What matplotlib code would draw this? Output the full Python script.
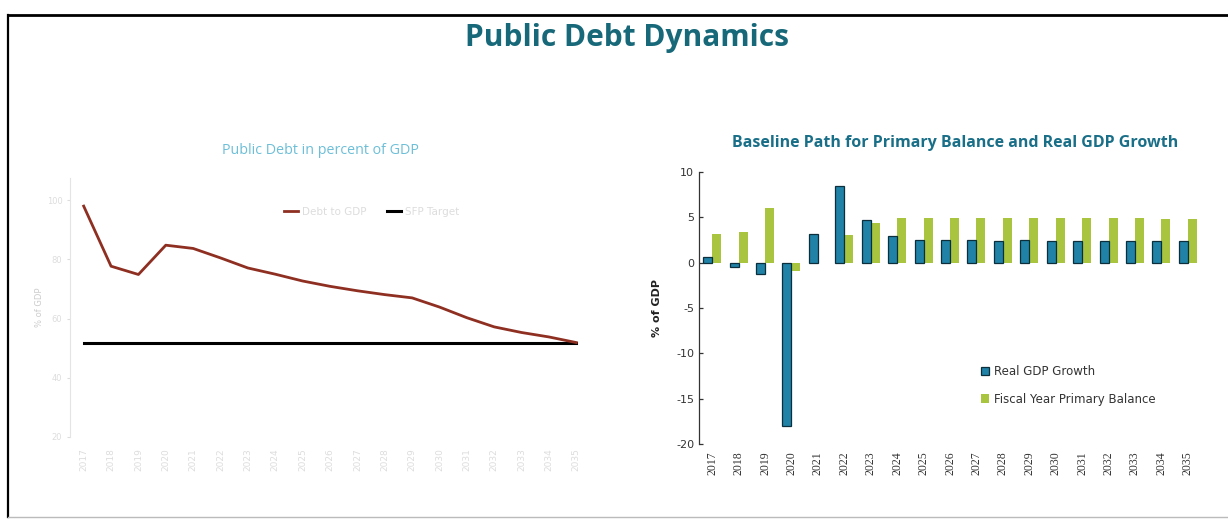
import matplotlib
matplotlib.use("Agg")
import matplotlib.pyplot as plt
from matplotlib.lines import Line2D
import numpy as np

# ---------------- data ----------------
years = [str(y) for y in range(2017, 2036)]

# left panel: public debt in percent of GDP
debt_to_gdp = [98.0, 77.7, 74.9, 84.8, 83.7, 80.5, 77.1, 75.0, 72.7, 70.9,
               69.4, 68.1, 67.0, 63.9, 60.3, 57.2, 55.3, 53.8, 51.9]
debt_target = [51.9] * 19
left_yticks = [20, 40, 60, 80, 100]

# right panel: baseline path
real_gdp_growth = [0.6, -0.5, -1.3, -18.0, 3.2, 8.5, 4.7, 2.9, 2.5, 2.5,
                   2.5, 2.4, 2.5, 2.4, 2.4, 2.4, 2.4, 2.4, 2.4]
primary_balance = [3.2, 3.4, 6.0, -0.9, 0.0, 3.0, 4.4, 4.9, 4.9, 4.9,
                   4.9, 4.9, 4.9, 4.9, 4.9, 4.9, 4.9, 4.8, 4.8]
right_yticks = [10, 5, 0, -5, -10, -15, -20]

# ---------------- figure ----------------
W, H = 1228, 519
fig = plt.figure(figsize=(W / 100, H / 100), dpi=100)
fig.patch.set_facecolor("white")

def fx(px):
    return px / W

def fy(py):
    return 1 - py / H

# frame (scanned page border)
fig.add_artist(Line2D([fx(8), fx(8)], [fy(15), fy(517)], color="black", lw=1.6))
fig.add_artist(Line2D([fx(8), 1.0], [fy(15), fy(15)], color="black", lw=2.0))
fig.add_artist(Line2D([fx(8), 1.0], [fy(517), fy(517)], color="#bbbbbb", lw=1.0))

title_font = "Open Sans"
fig.text(fx(627), fy(38), "Public Debt Dynamics", ha="center", va="center",
         fontsize=21.5, fontweight="bold", color="#17697a", family=title_font)

# ---------------- left panel ----------------
axL = fig.add_axes([fx(70), fy(437), fx(590) - fx(70), (437 - 178) / H])
x = np.arange(len(years))
axL.plot(x, debt_to_gdp, color="#8e2f22", lw=2.0, label="Debt to GDP", zorder=3)
axL.plot(x, debt_target, color="black", lw=2.2, label="SFP Target", zorder=2)
axL.set_xlim(-0.5, len(years) - 0.5)
axL.set_ylim(20, 107.5)
axL.set_yticks(left_yticks)
axL.set_yticklabels([str(v) for v in left_yticks], fontsize=6, color="#dddddd")
axL.set_xticks(x)
axL.set_xticklabels(years, rotation=90, fontsize=6.5, color="#dddddd")
axL.tick_params(axis="y", length=2, color="#dddddd", width=0.8)
axL.tick_params(axis="x", length=0, pad=8)
for s in ["top", "right", "bottom"]:
    axL.spines[s].set_visible(False)
axL.spines["left"].set_color("#e4e4e4")
axL.set_ylabel("% of GDP", fontsize=6, color="#cccccc", labelpad=2)
axL.legend(loc="center", bbox_to_anchor=(0.58, 0.87), ncol=2, frameon=False,
           fontsize=7.5, labelcolor="#dddddd", handlelength=1.3, columnspacing=2.0,
           handletextpad=0.4)
fig.text(fx(320), fy(150), "Public Debt in percent of GDP", ha="center", va="center",
         fontsize=10.3, color="#6cbfd8", family=title_font)

# ---------------- right panel ----------------
axR = fig.add_axes([fx(699), fy(444), fx(1201) - fx(699), (444 - 172) / H])
bw = 0.34
axR.bar(x - bw / 2, real_gdp_growth, width=bw, color="#1f82a6",
        edgecolor="#0b2f3c", linewidth=0.9, label="Real GDP Growth", zorder=3)
axR.bar(x + bw / 2, primary_balance, width=bw, color="#a9c43f",
        edgecolor="none", label="Fiscal Year Primary Balance", zorder=2)
axR.set_xlim(-0.5, len(years) - 0.5)
axR.set_ylim(-20, 10)
axR.set_yticks(right_yticks)
axR.set_yticklabels([str(v) for v in right_yticks], fontsize=8, color="#333333")
axR.set_xticks(x)
axR.set_xticklabels(years, rotation=90, fontsize=8.5, color="#333333",
                    family="Liberation Serif")
axR.tick_params(axis="y", direction="in", length=3, color="#333333", width=0.9)
axR.tick_params(axis="x", length=0, pad=5)
for s in ["top", "right", "bottom"]:
    axR.spines[s].set_visible(False)
axR.spines["left"].set_color("#333333")
axR.spines["left"].set_linewidth(0.9)
axR.set_ylabel("% of GDP", fontsize=8, fontweight="bold", color="#222222",
               labelpad=10)
leg = axR.legend(loc="upper left", bbox_to_anchor=(0.54, 0.33), frameon=False,
                 fontsize=8.5, labelcolor="#333333", handlelength=0.7,
                 handleheight=0.7, handletextpad=0.4, labelspacing=1.25)
fig.text(fx(955), fy(143), "Baseline Path for Primary Balance and Real GDP Growth",
         ha="center", va="center", fontsize=11.5, fontweight="bold",
         color="#1a6f88", family=title_font)

fig.savefig("out.png", dpi=100, facecolor="white")
